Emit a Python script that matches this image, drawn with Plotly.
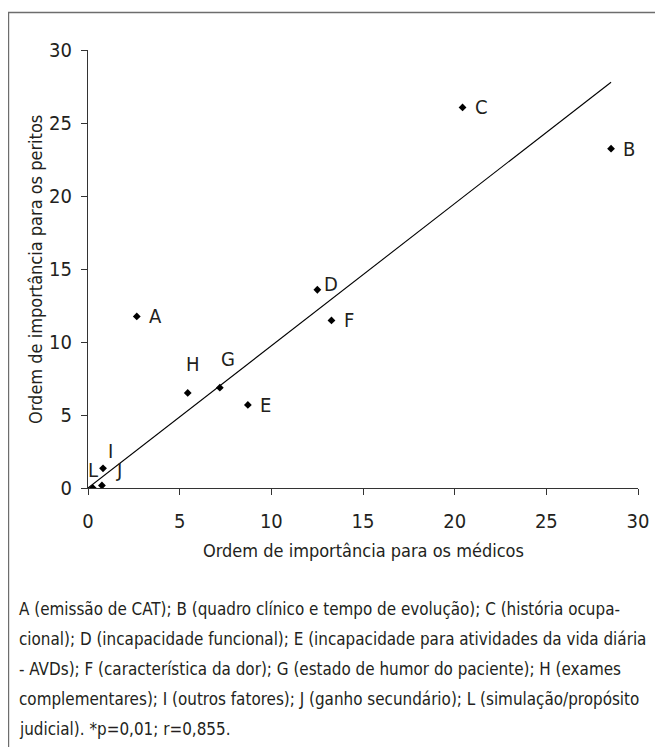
import plotly.graph_objects as go
import numpy as np

# ---- data ----
labels = ["A", "B", "C", "D", "E", "F", "G", "H", "I", "J", "L"]
medicos = [2.66, 28.53, 20.43, 12.51, 8.72, 13.28, 7.19, 5.44, 0.82, 0.76, 0.26]
peritos = [11.75, 23.24, 26.07, 13.58, 5.69, 11.48, 6.87, 6.51, 1.35, 0.17, 0.0]
x_ticks = [0, 5, 10, 15, 20, 25, 30]
y_ticks = [0, 5, 10, 15, 20, 25, 30]
x_title = "Ordem de importância para os médicos"
y_title = "Ordem de importância para os peritos"

footnote_lines = [
    "A (emissão de CAT); B (quadro clínico e tempo de evolução); C (história ocupa-",
    "cional); D (incapacidade funcional); E (incapacidade para atividades da vida diária",
    "- AVDs); F (característica da dor); G (estado de humor do paciente); H (exames",
    "complementares); I (outros fatores); J (ganho secundário); L (simulação/propósito",
    "judicial). *p=0,01; r=0,855.",
]

# label offsets (pixels) for point labels
label_shift = {
    "A": (19, 0), "B": (18, 0), "C": (19, 0), "D": (14, 6), "E": (18, 0),
    "F": (18, 0), "G": (8, 29), "H": (5, 29), "I": (7, 17), "J": (17, 16), "L": (0, 18),
}

FONT = "DejaVu Sans Condensed, Liberation Sans Narrow, Arial Narrow, sans-serif"
TXT = "#231f20"

# the page body has an 8 px margin, so the figure is offset by (8, 8) in the window
OFF = 8
W, H = 663 - OFF, 747 - OFF
PLOT_L, PLOT_R, PLOT_T, PLOT_B = 88, 637.7, 50, 488.5   # window pixels
L_M = PLOT_L - OFF
R_M = W - (PLOT_R - OFF)
T_M = PLOT_T - OFF
B_M = H - (PLOT_B - OFF)
pw = PLOT_R - PLOT_L
ph = PLOT_B - PLOT_T


def px_x(px):
    return (px - PLOT_L) / pw


def px_y(py):
    return (PLOT_B - py) / ph


# regression line through origin
xm = np.array(medicos)
ym = np.array(peritos)
slope = float(np.sum(xm * ym) / np.sum(xm * xm))
line_x = [0.0, float(xm.max())]
line_y = [slope * v for v in line_x]

fig = go.Figure()
fig.add_trace(go.Scatter(x=line_x, y=line_y, mode="lines",
                         line=dict(color="#000000", width=1.1),
                         hoverinfo="skip", showlegend=False))
fig.add_trace(go.Scatter(x=medicos, y=peritos, mode="markers",
                         marker=dict(symbol="diamond", size=6, color="#000000"),
                         text=labels, showlegend=False))

annotations = []
for lab, xv, yv in zip(labels, medicos, peritos):
    dx, dy = label_shift[lab]
    annotations.append(dict(x=xv, y=yv, xref="x", yref="y", text=lab, showarrow=False,
                            xshift=dx, yshift=dy, xanchor="center", yanchor="middle",
                            font=dict(family=FONT, size=20, color=TXT)))

# axis titles
annotations.append(dict(x=0.5, y=px_y(551), xref="paper", yref="paper", text=x_title,
                        showarrow=False, xanchor="center", yanchor="middle",
                        font=dict(family=FONT, size=18, color=TXT)))
annotations.append(dict(x=px_x(35), y=0.5, xref="paper", yref="paper", text=y_title,
                        showarrow=False, xanchor="center", yanchor="middle", textangle=-90,
                        font=dict(family=FONT, size=18, color=TXT)))

y0 = 610
for i, line in enumerate(footnote_lines):
    annotations.append(dict(x=px_x(17), y=px_y(y0 + i * 30), xref="paper", yref="paper",
                            text=line, showarrow=False, xanchor="left", yanchor="middle",
                            font=dict(family=FONT, size=16.9, color=TXT)))

fig.update_layout(
    width=W, height=H,
    margin=dict(l=L_M, r=R_M, t=T_M, b=B_M, autoexpand=False),
    paper_bgcolor="white", plot_bgcolor="white",
    font=dict(family=FONT, color=TXT),
    annotations=annotations,
    shapes=[dict(type="rect", xref="paper", yref="paper",
                 x0=px_x(8.5), x1=px_x(700), y0=px_y(800), y1=px_y(12.5),
                 line=dict(color="#6d6d6d", width=1.5), fillcolor="rgba(0,0,0,0)",
                 layer="below")],
    xaxis=dict(range=[0, 30], tickvals=x_ticks, showgrid=False, zeroline=False,
               showline=True, linecolor="#333333", linewidth=1.2, automargin=False,
               ticks="outside", ticklen=6, tickcolor="#333333", tickwidth=1.2,
               tickfont=dict(family=FONT, size=20, color=TXT),
               ticklabelstandoff=9),
    yaxis=dict(range=[0, 30], tickvals=y_ticks, showgrid=False, zeroline=False,
               showline=True, linecolor="#333333", linewidth=1.2, automargin=False,
               ticks="outside", ticklen=6, tickcolor="#333333", tickwidth=1.2,
               tickfont=dict(family=FONT, size=20, color=TXT),
               ticklabelstandoff=5),
)

fig.write_html("out.html")
